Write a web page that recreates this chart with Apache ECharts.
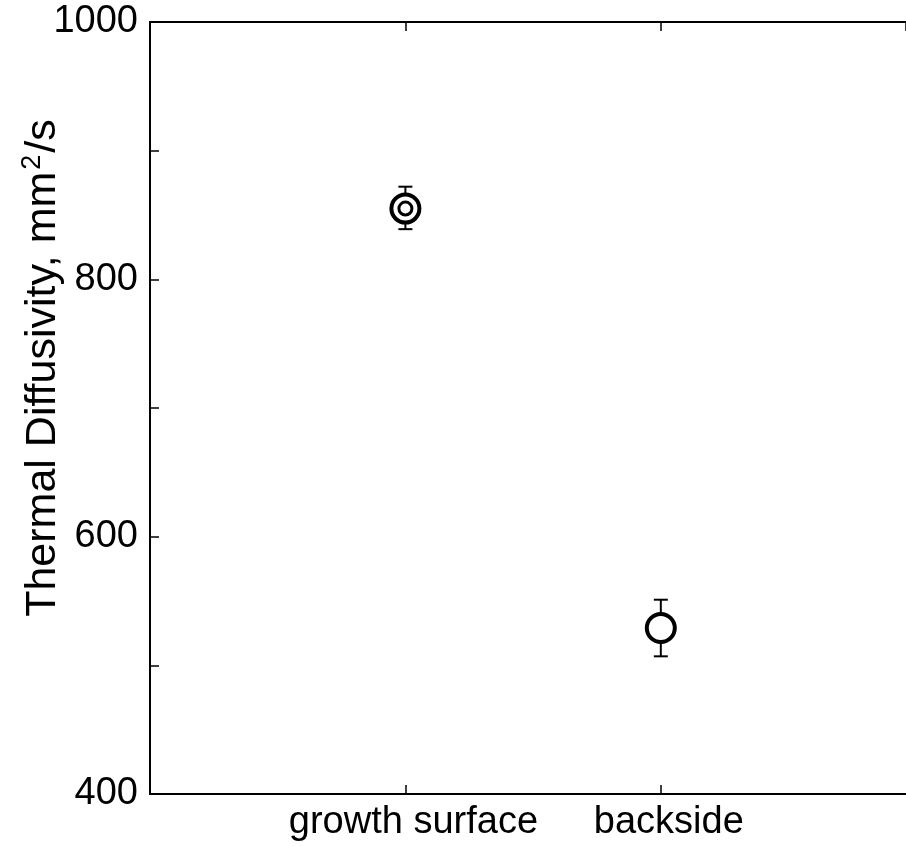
<!DOCTYPE html>
<html><head><meta charset="utf-8">
<script src="https://cdn.jsdelivr.net/npm/echarts@6/dist/echarts.min.js"></script>
<style>html,body{margin:0;padding:0;background:#fff}#c{width:906px;height:846px}</style>
</head><body><div id="c"></div>
<script>
const categories = ['growth surface', 'backside'];
const categoryPos = [1, 2];
const values = [855, 529];
const errLow = [839, 507];
const errHigh = [872, 551];
const yTicks = [400, 600, 800, 1000];

const chart = echarts.init(document.getElementById('c'));
const font = 'Liberation Sans, Arial, sans-serif';
const pts = categoryPos.map((x, i) => [x, values[i]]);
const errData = categoryPos.map((x, i) => [x, errLow[i], errHigh[i]]);

chart.setOption({
  animation: false,
  backgroundColor: '#fff',
  grid: {left: 150, width: 756, top: 22, height: 772},
  xAxis: [{
    type: 'value', min: 0, max: 2.96, interval: 1, position: 'bottom',
    axisLine: {lineStyle: {color: '#000', width: 2}},
    axisTick: {inside: true, length: 9, lineStyle: {color: '#000', width: 1.5}},
    axisLabel: {color: '#000', fontSize: 38, fontFamily: font, margin: 10, showMaxLabel: false,
      padding: [0, 0, 0, 16],
      formatter: v => { const k = categoryPos.indexOf(v); return k >= 0 ? categories[k] : ''; }},
    splitLine: {show: false}
  }, {
    type: 'value', min: 0, max: 2.96, interval: 1, position: 'top',
    axisLine: {lineStyle: {color: '#000', width: 2}},
    axisTick: {inside: true, length: 9, lineStyle: {color: '#000', width: 1.5}},
    axisLabel: {show: false}, splitLine: {show: false}
  }],
  yAxis: {
    type: 'value', min: 400, max: 1000, interval: 100,
    axisLine: {lineStyle: {color: '#000', width: 2}},
    axisTick: {inside: true, length: 9, lineStyle: {color: '#000', width: 1.5}},
    axisLabel: {color: '#000', fontSize: 38, fontFamily: font, margin: 12,
      formatter: v => yTicks.indexOf(v) >= 0 ? String(v) : ''},
    splitLine: {show: false}
  },
  graphic: [{
    type: 'text', x: 43, y: 368, rotation: Math.PI / 2,
    style: {
      text: '{a|Thermal Diffusivity, mm}{s|2}{a|/s}',
      align: 'center', verticalAlign: 'middle',
      rich: {
        a: {fontSize: 43, fontFamily: font, fill: '#000'},
        s: {fontSize: 27, fontFamily: font, fill: '#000', verticalAlign: 'top', padding: [0, 2, 20, 2]}
      }
    }
  }],
  series: [{
    type: 'custom',
    data: errData,
    renderItem: (params, api) => {
      const x = api.value(0);
      const lo = api.coord([x, api.value(1)]);
      const hi = api.coord([x, api.value(2)]);
      const hw = 7;
      const st = {stroke: '#000', lineWidth: 2};
      return {type: 'group', children: [
        {type: 'line', shape: {x1: lo[0], y1: lo[1], x2: hi[0], y2: hi[1]}, style: st},
        {type: 'line', shape: {x1: lo[0] - hw, y1: lo[1], x2: lo[0] + hw, y2: lo[1]}, style: st},
        {type: 'line', shape: {x1: hi[0] - hw, y1: hi[1], x2: hi[0] + hw, y2: hi[1]}, style: st}
      ]};
    },
    z: 2
  }, {
    type: 'scatter', data: pts, symbol: 'circle', symbolSize: 28,
    itemStyle: {color: '#fff', borderColor: '#000', borderWidth: 4, opacity: 1},
    z: 3
  }, {
    type: 'scatter', data: [pts[0]], symbol: 'circle', symbolSize: 13,
    itemStyle: {color: '#fff', borderColor: '#000', borderWidth: 3, opacity: 1},
    z: 4
  }]
});
</script></body></html>
